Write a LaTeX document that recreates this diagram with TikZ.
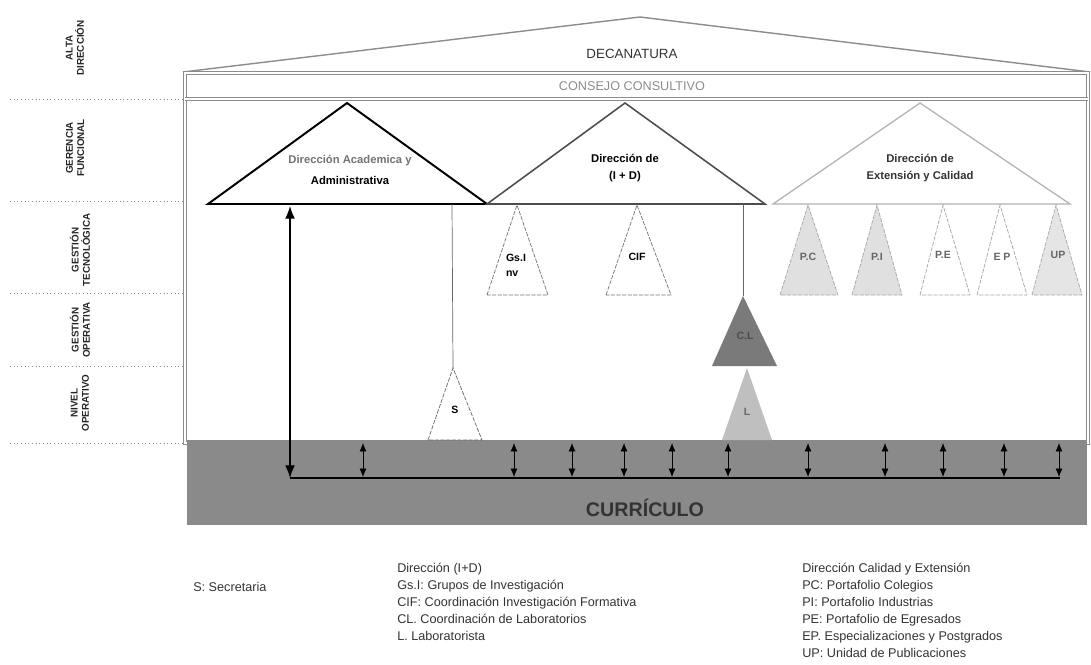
\documentclass[tikz,border=0pt]{standalone}
\usepackage{fontspec}
\setmainfont{Liberation Sans}
\usetikzlibrary{arrows.meta}

\begin{document}
\begin{tikzpicture}[x=0.025cm, y=-0.025cm]
	\tikzstyle{levelline}=[black!45, dotted, line width=0.6pt]
	\tikzstyle{levellabel}=[rotate=90, align=center, font=\bfseries\fontsize{7}{8}\selectfont, text=black!85, inner sep=0pt]
	\tikzstyle{roof}=[draw=black!45, line width=1pt]
	\tikzstyle{frame}=[draw=black!45, double=white, double distance=1.2pt, line width=0.7pt]
	\tikzstyle{toptri}=[fill=white, line join=miter]
	\tikzstyle{subtri}=[dash pattern=on 3pt off 1pt, line width=0.5pt, draw=black!55]
	\tikzstyle{trilabel}=[align=center, font=\bfseries\fontsize{8}{11}\selectfont, inner sep=0pt]
	\tikzstyle{smalllabel}=[align=left, font=\bfseries\fontsize{7.5}{10.5}\selectfont, inner sep=0pt]
	\tikzstyle{legendtext}=[anchor=base west, font=\fontsize{9}{11}\selectfont, text=black!80, inner sep=0pt]
	\tikzstyle{linkarrow}=[{Latex[length=6pt,width=5pt]}-{Latex[length=6pt,width=5pt]}, line width=0.6pt]
	\tikzstyle{bigarrow}=[{Latex[length=9pt,width=7pt]}-{Latex[length=9pt,width=7pt]}, line width=0.9pt]

	\useasboundingbox (0,0) rectangle (1091,664);

	% niveles
	\foreach \y in {99,201,293,366,443}
		\draw[levelline] (10,\y) -- (185,\y);
	\node[levellabel] (alta) at (75,48) {ALTA\\DIRECCIÓN};
	\node[levellabel] (gerencia) at (75,148) {GERENCIA\\FUNCIONAL};
	\node[levellabel] (gtecno) at (80,250) {GESTIÓN\\TECNOLÓGICA};
	\node[levellabel] (goper) at (80,330) {GESTIÓN\\OPERATIVA};
	\node[levellabel] (nivel) at (80,403) {NIVEL\\OPERATIVO};

	% decanatura y consejo
	\draw[roof] (183,72) -- (640,17) -- (1090,72);
	\draw[frame] (185,73) rectangle (1088,443);
	\draw[frame] (185,99) -- (1088,99);
	\node[font=\fontsize{9.5}{11}\selectfont, text=black!80] (decanatura) at (632,54) {DECANATURA};
	\node[font=\fontsize{9}{11}\selectfont, text=black!45] (consejo) at (632,86) {CONSEJO CONSULTIVO};

	% curriculo
	\fill[black!46] (187,440) rectangle (1087,525);
	\node[font=\bfseries\fontsize{14}{16}\selectfont, text=black!80] (curriculo) at (645,508) {CURRÍCULO};

	% gerencia funcional
	\draw[toptri, draw=black, line width=1.4pt] (208,204) -- (347,103) coordinate (acadtop) -- (487,204) -- cycle;
	\draw[toptri, draw=black!70, line width=1.1pt] (487,204) -- (625,103) coordinate (idtop) -- (765,204) -- cycle;
	\draw[toptri, draw=black!30, line width=0.9pt] (773,204) -- (920,103) coordinate (ectop) -- (1070,204) -- cycle;
	\node[trilabel, font=\bfseries\fontsize{8}{15}\selectfont] (acad) at (350,170) {{\color{black!55}Dirección Academica y}\\Administrativa};
	\node[trilabel, font=\bfseries\fontsize{8}{12.5}\selectfont] (id) at (625,168) {Dirección de\\(I + D)};
	\node[trilabel, font=\bfseries\fontsize{8}{12.5}\selectfont, text=black!80] (ec) at (920,168) {Dirección de\\Extensión y Calidad};

	% gestion tecnologica
	\draw[subtri] (487,295) -- (517,205) coordinate (gstop) -- (548,295) -- cycle;
	\draw[subtri] (606,295) -- (637,205) coordinate (ciftop) -- (671,295) -- cycle;
	\draw[subtri, draw=black!35, fill=black!12] (780,295) -- (808,205) coordinate (pctop) -- (838,295) -- cycle;
	\draw[subtri, draw=black!35, fill=black!12] (852,295) -- (877,205) coordinate (pitop) -- (902,295) -- cycle;
	\draw[subtri, draw=black!35] (920,295) -- (943,205) coordinate (petop) -- (970,295) -- cycle;
	\draw[subtri, draw=black!35] (977,295) -- (1000,205) coordinate (eptop) -- (1027,295) -- cycle;
	\draw[subtri, draw=black!35, fill=black!10] (1032,295) -- (1056,205) coordinate (uptop) -- (1082,295) -- cycle;
	\node[smalllabel] (gs) at (516,265) {Gs.I\\nv};
	\node[smalllabel] (cif) at (637,257) {CIF};
	\node[smalllabel, text=black!60] (pc) at (808,257) {P.C};
	\node[smalllabel, text=black!60] (pi) at (877,257) {P.I};
	\node[smalllabel, text=black!60] (pe) at (943,255) {P.E};
	\node[smalllabel, text=black!60] (ep) at (1002,257) {E P};
	\node[smalllabel, text=black!60] (up) at (1058,255) {UP};

	% gestion operativa y nivel operativo
	\draw[subtri, draw=black!60] (428,440) -- (453,368) coordinate (stop) -- (482,440) -- cycle;
	\fill[black!52] (712,366) -- (743,296) coordinate (cltop) -- (777,366) -- cycle;
	\fill[black!25] (722,440) -- (747,368) coordinate (ltop) -- (772,440) -- cycle;
	\node[smalllabel] (s) at (455,410) {S};
	\node[smalllabel, text=black!70] (cl) at (745,336) {C.L};
	\node[smalllabel, text=black!60] (l) at (747,412) {L};
	\coordinate (acadlink) at (452,204);
	\coordinate (idlink) at (743,204);
	\draw[black!60, line width=0.5pt] (acadlink) -- (stop);
	\draw[black!60, line width=0.5pt] (idlink) -- (cltop);

	% flechas al curriculo
	\coordinate (acadbase) at (290,206);
	\coordinate (curleft) at (290,478);
	\coordinate (curright) at (1060,478);
	\draw[bigarrow] (acadbase) -- (curleft);
	\draw[line width=1.3pt] (curleft) -- (curright);
	\foreach \x [count=\i] in {363,514,572,624,672,728,808,885,943,1004,1059}{
		\coordinate (up\i) at (\x,443);
		\coordinate (dn\i) at (\x,477);
		\draw[linkarrow] (up\i) -- (dn\i);
	}

	% convenciones
	\node[legendtext] (legs) at (193,591) {S: Secretaria};
	\foreach \t [count=\i] in {{Dirección (I+D)}, {Gs.I: Grupos de Investigación}, {CIF: Coordinación Investigación Formativa}, {CL. Coordinación de Laboratorios}, {L. Laboratorista}}
		\node[legendtext] (legid\i) at (397,555+17*\i) {\t};
	\foreach \t [count=\i] in {{Dirección Calidad y Extensión}, {PC: Portafolio Colegios}, {PI: Portafolio Industrias}, {PE: Portafolio de Egresados}, {EP. Especializaciones y Postgrados}, {UP: Unidad de Publicaciones}}
		\node[legendtext] (legec\i) at (802,555+17*\i) {\t};
\end{tikzpicture}
\end{document}
